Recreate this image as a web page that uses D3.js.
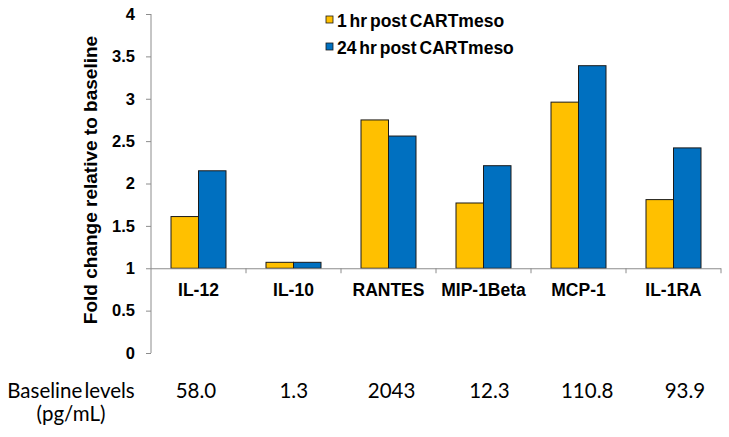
<!DOCTYPE html>
<html>
<head>
<meta charset="utf-8">
<script src="https://cdn.jsdelivr.net/npm/d3@7"></script>
<style>
  html, body { margin: 0; padding: 0; background: #fff; }
  svg { display: block; }
</style>
</head>
<body>
<svg id="chart" width="729" height="437"></svg>
<script>
// ---- data ----
const categories = ["IL-12", "IL-10", "RANTES", "MIP-1Beta", "MCP-1", "IL-1RA"];
const seriesNames = ["1 hr post CARTmeso", "24 hr post CARTmeso"];
const oneHr = [1.61, 1.07, 2.75, 1.77, 2.96, 1.81];
const twentyFourHr = [2.15, 1.07, 2.56, 2.21, 3.39, 2.42];
const baselineLevels = ["58.0", "1.3", "2043", "12.3", "110.8", "93.9"];
const yTicks = [0, 0.5, 1, 1.5, 2, 2.5, 3, 3.5, 4];
const yTitle = "Fold change relative to baseline";
const rowTitle = ["Baseline levels", "(pg/mL)"];

// ---- layout ----
const svg = d3.select("#chart");
const colors = ["#FFC000", "#0070C0"];
const axisColor = "#8c8c8c";
const boldFont = "Liberation Sans, Arial, sans-serif";
const tableFont = "Lato, 'Open Sans', sans-serif";

const x = d3.scaleBand().domain(categories).range([151, 721]).paddingInner(0).paddingOuter(0);
const xs = d3.scaleBand().domain(seriesNames).range([20, x.bandwidth() - 20]);
const y = d3.scaleLinear().domain([0, 4]).range([353, 14]);
const baseVal = 1;

const series = [oneHr, twentyFourHr];

// bars
series.forEach((vals, si) => {
  svg.append("g").selectAll("rect")
    .data(categories.map((c, i) => ({ c, v: vals[i] })))
    .join("rect")
    .attr("x", d => x(d.c) + xs(seriesNames[si]))
    .attr("width", xs.bandwidth())
    .attr("y", d => y(Math.max(d.v, baseVal)))
    .attr("height", d => Math.abs(y(baseVal) - y(d.v)))
    .attr("fill", colors[si])
    .attr("stroke", "#1a1a1a")
    .attr("stroke-width", 1);
});

// y axis
const yAxis = d3.axisLeft(y).tickValues(yTicks).tickSize(5).tickPadding(11)
  .tickFormat(d => d3.format("")(d));
const gy = svg.append("g").attr("transform", "translate(151,0)").call(yAxis);
gy.select(".domain").attr("stroke", axisColor).attr("d", `M-0.5,${y(0)}V${y(4)}`)
  .attr("transform", "translate(0.5,0)");
gy.selectAll(".tick line").attr("stroke", axisColor);
gy.selectAll(".tick text").attr("font-family", boldFont).attr("font-weight", "bold")
  .attr("font-size", 16.5).attr("fill", "#000");

// x axis at y=1
const xAxis = d3.axisBottom(x).tickSize(0).tickFormat("");
const gx = svg.append("g").attr("transform", `translate(0,${y(baseVal)})`).call(xAxis);
gx.select(".domain").attr("stroke", axisColor).attr("d", `M151,0.5H721`);
gx.selectAll(".tick").remove();
// category boundary ticks
svg.append("g").selectAll("line")
  .data(categories)
  .join("line")
  .attr("x1", d => x(d) + x.bandwidth())
  .attr("x2", d => x(d) + x.bandwidth())
  .attr("y1", y(baseVal))
  .attr("y2", y(baseVal) + 5)
  .attr("stroke", axisColor);

// category labels
svg.append("g").selectAll("text")
  .data(categories)
  .join("text")
  .attr("x", d => x(d) + x.bandwidth() / 2)
  .attr("y", 296)
  .attr("text-anchor", "middle")
  .attr("font-family", boldFont)
  .attr("font-weight", "bold")
  .attr("font-size", 17.5)
  .text(d => d);

// y title
svg.append("text")
  .attr("transform", `translate(97,180) rotate(-90)`)
  .attr("text-anchor", "middle")
  .attr("font-family", boldFont)
  .attr("font-weight", "bold")
  .attr("font-size", 19)
  .text(yTitle);

// legend
const lg = svg.append("g");
seriesNames.forEach((name, i) => {
  lg.append("rect")
    .attr("x", 326).attr("y", 16 + i * 27)
    .attr("width", 7).attr("height", 7)
    .attr("fill", colors[i]).attr("stroke", "#1a1a1a").attr("stroke-width", 0.8);
  lg.append("text")
    .attr("x", 337).attr("y", 27 + i * 27)
    .attr("font-family", boldFont).attr("font-weight", "bold")
    .attr("font-size", 17.5).attr("word-spacing", -2)
    .text(name);
});

// baseline levels row
const xt = d3.scalePoint().domain(categories).range([196, 685]);
svg.append("g").selectAll("text")
  .data(categories.map((c, i) => ({ c, t: baselineLevels[i] })))
  .join("text")
  .attr("x", d => xt(d.c))
  .attr("y", 398)
  .attr("text-anchor", "middle")
  .attr("font-family", tableFont)
  .attr("font-size", 20.5)
  .text(d => d.t);

svg.append("text")
  .attr("x", 71).attr("y", 398)
  .attr("text-anchor", "middle")
  .attr("font-family", tableFont).attr("font-size", 20.5)
  .attr("word-spacing", -3)
  .text(rowTitle[0]);
svg.append("text")
  .attr("x", 71).attr("y", 421)
  .attr("text-anchor", "middle")
  .attr("font-family", tableFont).attr("font-size", 20.5)
  .text(rowTitle[1]);
</script>
</body>
</html>
